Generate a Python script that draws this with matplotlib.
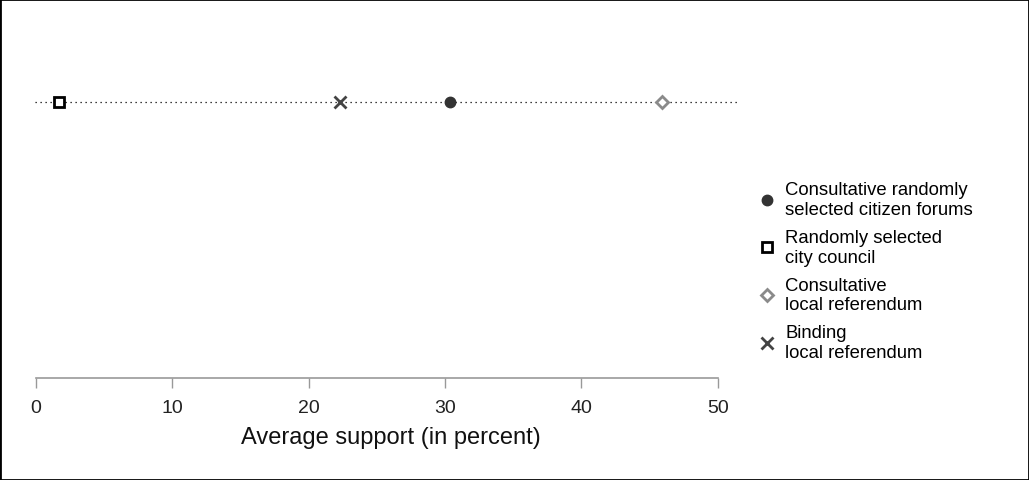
import matplotlib
matplotlib.use("Agg")
import matplotlib.pyplot as plt
from matplotlib.patches import Rectangle

plt.rcParams["font.family"] = ["Liberation Sans", "DejaVu Sans"]

# data
models = ["Consultative randomly\nselected citizen forums",
          "Randomly selected\ncity council",
          "Consultative\nlocal referendum",
          "Binding\nlocal referendum"]
support = [30.4, 1.7, 45.9, 22.3]
markers = ["o", "s", "D", "x"]
colors = ["#333333", "#000000", "#8a8a8a", "#444444"]
filled = [True, False, False, True]
sizes = [7.5, 7.5, 6.5, 8]

xticks = [0, 10, 20, 30, 40, 50]

fig = plt.figure(figsize=(10.29, 4.81), dpi=100)
W, H = 1029, 481
ax = fig.add_axes([35 / W, (H - 379) / H, (737 - 35) / W, (379 - 20) / H])

row_y = (379 - 103) / (379 - 20)
ax.set_xlim(-0.05, 51.4)
ax.set_ylim(0, 1)
ax.axhline(row_y, color="black", linestyle=(0, (1, 3)), linewidth=0.9, zorder=1)

handles = []
for name, val, m, c, f, s in zip(models, support, markers, colors, filled, sizes):
    if m == "x":
        h, = ax.plot([val], [row_y], linestyle="none", marker=m, markersize=s,
                     color=c, markeredgewidth=2, label=name, zorder=3)
    elif f:
        h, = ax.plot([val], [row_y], linestyle="none", marker=m, markersize=s,
                     color=c, markeredgecolor=c, label=name, zorder=3)
    else:
        h, = ax.plot([val], [row_y], linestyle="none", marker=m, markersize=s,
                     markerfacecolor="white", markeredgecolor=c,
                     markeredgewidth=2, label=name, zorder=3)
    handles.append(h)

for side in ["top", "right", "left"]:
    ax.spines[side].set_visible(False)
ax.spines["bottom"].set_bounds(0, 50)
ax.spines["bottom"].set_color("#999999")
ax.spines["bottom"].set_linewidth(1.2)
ax.set_yticks([])
ax.set_xticks(xticks)
ax.tick_params(axis="x", length=7, width=1, color="#999999",
               labelsize=14, labelcolor="#222222", pad=8)
ax.set_xlabel("Average support (in percent)", fontsize=17, color="#111111",
              labelpad=8)
ax.xaxis.set_label_coords(0.507, -0.135)

fig.legend(handles=handles, loc="upper left", bbox_to_anchor=(750 / W, 1 - 175 / H),
           frameon=False, fontsize=13.3, handlelength=1.0, handletextpad=0.5,
           labelspacing=0.6, borderaxespad=0)

fig.patches.append(Rectangle((0, 0), 1, 1, transform=fig.transFigure,
                             fill=False, edgecolor="black", linewidth=2))

fig.savefig("out.png", dpi=100)
